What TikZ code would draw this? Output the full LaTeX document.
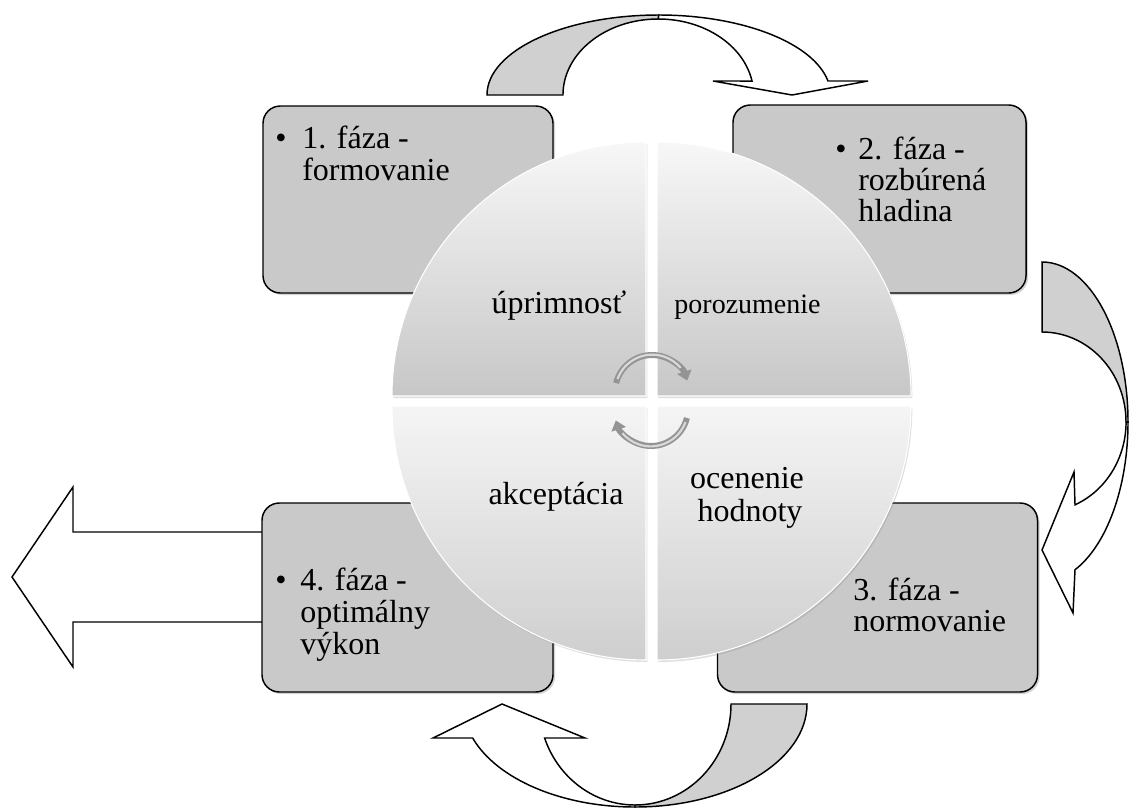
\documentclass[tikz,border=0pt]{standalone}
\usepackage{fontspec}
\setmainfont{Liberation Serif}
\usetikzlibrary{arrows.meta,shadows}
\definecolor{boxgray}{HTML}{C9C9C9}
\definecolor{ribgray}{HTML}{D0D0D0}
\newcommand{\phasefont}{\fontsize{24}{28}\selectfont}
\newcommand{\smallqfont}{\fontsize{21}{24}\selectfont}
\begin{document}
\begin{tikzpicture}[x=0.75pt,y=-0.75pt,
  phase/.style={draw=black, line width=1.1pt, fill=boxgray, rounded corners=13pt, inner sep=0pt,
    drop shadow={opacity=0.35, shadow xshift=1.5pt, shadow yshift=-1.5pt}},
  ribbon/.style={draw=black, line width=1.1pt, line join=miter},
  quadtop/.style={top color=white!97!black, bottom color=black!22, draw=white, line width=0.8pt,
    drop shadow={opacity=0.25, shadow xshift=1pt, shadow yshift=-1.5pt}},
  quadbot/.style={top color=white!96!black, bottom color=black!19, draw=white, line width=0.8pt,
    drop shadow={opacity=0.25, shadow xshift=1pt, shadow yshift=-1.5pt}},
  cycbase/.style={draw=black!42, line width=4.5pt, -{Triangle[length=7pt,width=11pt]}},
  cychi/.style={draw=white!85!black, line width=1.6pt},
  txt/.style={inner sep=0pt, font=\phasefont, text=black},
]
\useasboundingbox (0,0) rectangle (1130,807);

% ---------- top curved arrow (phase 1 -> phase 2)
\filldraw[ribbon, fill=ribgray] (487,95) arc[start angle=180, end angle=90, x radius=128.85pt, y radius=60pt]
  -- (658.3,19) arc[start angle=90, end angle=180, x radius=71.5pt, y radius=57pt] -- cycle;
\filldraw[ribbon, fill=white] (658.8,15) arc[start angle=90, end angle=10.08, x radius=128.85pt, y radius=60pt]
  -- (868,81) -- (792,95) -- (713,81) -- (752,81.02)
  arc[start angle=10.6, end angle=90, x radius=71.5pt, y radius=57pt] -- cycle;

% ---------- right curved arrow (phase 2 -> phase 3)
\filldraw[ribbon, fill=ribgray] (1042,262) arc[start angle=90, end angle=0, x radius=64.5pt, y radius=120pt]
  -- (1126,422) arc[start angle=0, end angle=90, x radius=63pt, y radius=67.5pt] -- cycle;
\filldraw[ribbon, fill=white] (1128,422) arc[start angle=0, end angle=-67.44, x radius=64.5pt, y radius=120pt]
  -- (1073,613) -- (1042,550) -- (1074,472) -- (1075,504.8)
  arc[start angle=-66.9, end angle=0, x radius=63pt, y radius=67.5pt] -- cycle;

% ---------- bottom curved arrow (phase 3 -> phase 4)
\filldraw[ribbon, fill=ribgray] (807,704) arc[start angle=0, end angle=-90, x radius=129pt, y radius=77.25pt]
  -- (635,805) arc[start angle=-90, end angle=0, x radius=72pt, y radius=75.75pt] -- cycle;
\filldraw[ribbon, fill=white] (635,807) arc[start angle=-90, end angle=-160.73, x radius=129pt, y radius=77.25pt]
  -- (433,738) -- (502,704) -- (585,738) -- (544.6,738)
  arc[start angle=-160.33, end angle=-90, x radius=72pt, y radius=75.75pt] -- cycle;

% ---------- left block arrow (out of phase 4)
\filldraw[ribbon, fill=white] (270,532) -- (73,532) -- (73,487) -- (12,577) -- (73,667) -- (73,622) -- (270,622) -- cycle;

% ---------- phase boxes
\node[phase, minimum width=217.5pt, minimum height=140.25pt] (p1) at (408,199.5) {};
\node[phase, minimum width=219.75pt, minimum height=141pt] (p2) at (879.5,199) {};
\node[phase, minimum width=240pt, minimum height=141.75pt] (p3) at (877.5,597.5) {};
\node[phase, minimum width=218.25pt, minimum height=141.75pt] (p4) at (407.5,597.5) {};

% box texts
\node[txt, anchor=base] (b1) at (281,148) {•};
\node[txt, anchor=base west] (t1a) at (302,148) {1. fáza -};
\node[txt, anchor=base west] (t1b) at (302,180) {formovanie};

\node[txt, anchor=base] (b2) at (841,159) {•};
\node[txt, anchor=base west] (t2a) at (858,159) {2. fáza -};
\node[txt, anchor=base west] (t2b) at (858,190) {rozbúrená};
\node[txt, anchor=base west] (t2c) at (858,221) {hladina};

\node[txt, anchor=base west] (t3a) at (853,600) {3. fáza -};
\node[txt, anchor=base west] (t3b) at (853,631) {normovanie};

\node[txt, anchor=base] (b4) at (281,590) {•};
\node[txt, anchor=base west] (t4a) at (300,590) {4. fáza -};
\node[txt, anchor=base west] (t4b) at (300,622) {optimálny};
\node[txt, anchor=base west] (t4c) at (300,654) {výkon};

% ---------- central circle (four quadrants)
\path[quadtop] (646,396) -- (646,142) arc[start angle=90, end angle=180, radius=190.5pt] -- cycle;
\path[quadtop] (657,396) -- (911,396) arc[start angle=0, end angle=90, radius=190.5pt] -- cycle;
\path[quadbot] (646,406) -- (392,406) arc[start angle=180, end angle=270, radius=190.5pt] -- cycle;
\path[quadbot] (657,406) -- (657,660) arc[start angle=270, end angle=360, radius=190.5pt] -- cycle;

% small cycle arrows in the middle
\draw[cycbase] (616.1,383.05) arc[start angle=166, end angle=18, radius=27.75pt];
\draw[cychi] (617.5,379) arc[start angle=160, end angle=40, radius=27.75pt];
\draw[cycbase] (686.9,417.95) arc[start angle=-14, end angle=-162, radius=27.75pt];
\draw[cychi] (685.5,422) arc[start angle=-20, end angle=-140, radius=27.75pt];

% quadrant labels
\node[txt, anchor=base] (q1) at (559,313) {úprimnosť};
\node[txt, anchor=base, font=\smallqfont] (q2) at (747.5,313) {porozumenie};
\node[txt, anchor=base] (q3) at (556,504) {akceptácia};
\node[txt, anchor=base] (q4a) at (747,488) {ocenenie};
\node[txt, anchor=base] (q4b) at (750,521) {hodnoty};
\end{tikzpicture}
\end{document}
